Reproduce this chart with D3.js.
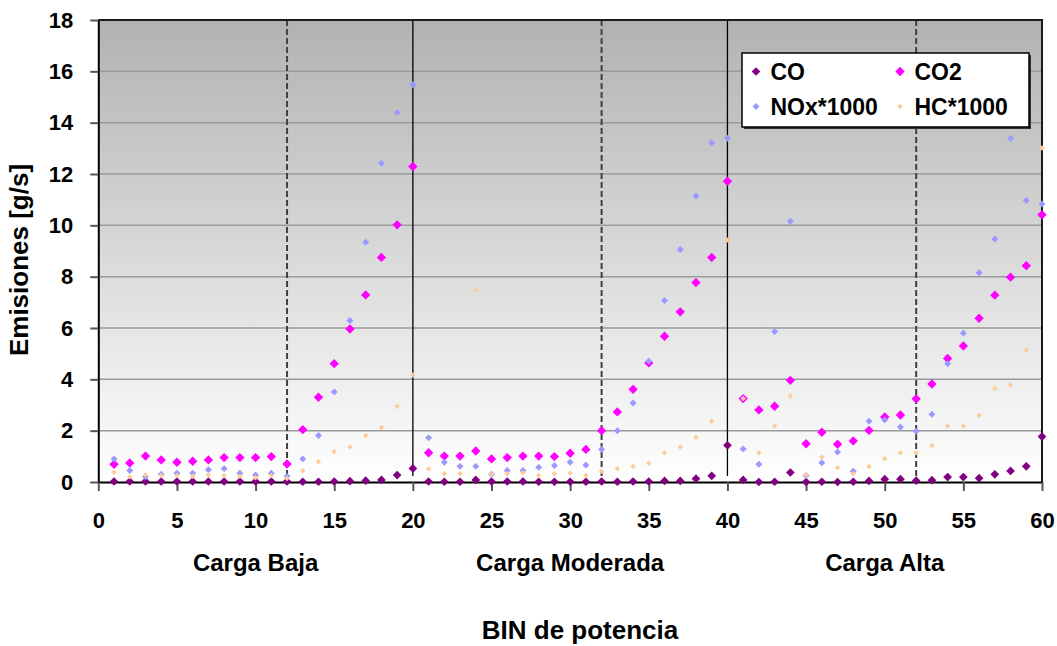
<!DOCTYPE html>
<html>
<head>
<meta charset="utf-8">
<script src="https://cdn.jsdelivr.net/npm/d3@7/dist/d3.min.js"></script>
<style>
  html, body { margin: 0; padding: 0; background: #ffffff; }
  svg { display: block; }
  text { font-family: "Liberation Sans", Arial, sans-serif; font-weight: bold; fill: #000; }
</style>
</head>
<body>
<svg id="chart" width="1057" height="646"></svg>
<script>
// Power bins 1..60
const bins = d3.range(1, 61);

// Emissions per bin [g/s]
const co = [0.02,0.02,0.02,0.02,0.02,0.02,0.02,0.02,0.02,0.02,0.02,0.02,0.01,0.01,0.02,0.03,0.05,0.08,0.27,0.53,
            0.02,0.01,0.01,0.08,0.02,0.02,0.02,0.01,0.01,0.01,0.01,0.02,0.01,0.02,0.02,0.04,0.04,0.13,0.24,1.43,
            0.08,0.00,0.01,0.37,0.00,0.01,0.00,0.01,0.04,0.11,0.11,0.05,0.07,0.19,0.19,0.15,0.30,0.43,0.61,1.77];
const co2 = [0.69,0.74,1.01,0.86,0.77,0.81,0.86,0.95,0.95,0.95,0.99,0.70,2.04,3.30,4.61,5.96,7.29,8.75,10.02,12.29,
             1.14,1.01,1.01,1.21,0.90,0.95,1.01,1.01,0.99,1.12,1.27,2.00,2.73,3.61,4.64,5.68,6.63,7.77,8.75,11.72,
             3.25,2.81,2.95,3.96,1.49,1.94,1.47,1.60,2.01,2.53,2.61,3.24,3.82,4.81,5.30,6.38,7.28,7.98,8.43,10.41];
const nox1000 = [0.90,0.45,0.20,0.30,0.34,0.34,0.48,0.52,0.34,0.27,0.34,0.22,0.90,1.81,3.51,6.29,9.34,12.42,14.40,15.48,
                 1.72,0.77,0.61,0.61,0.30,0.45,0.45,0.57,0.64,0.77,0.66,1.27,2.00,3.08,4.70,7.07,9.06,11.14,13.22,13.39,
                 1.29,0.69,5.86,10.16,0.25,0.75,1.17,0.42,2.37,2.42,2.14,1.98,2.64,4.61,5.80,8.15,9.47,13.39,10.97,10.83];
const hc1000 = [0.38,0.20,0.27,0.25,0.25,0.22,0.27,0.25,0.22,0.17,0.25,0.14,0.44,0.79,1.18,1.36,1.81,2.12,2.95,4.17,
                0.52,0.32,0.32,7.46,0.30,0.32,0.36,0.25,0.32,0.35,0.25,0.42,0.52,0.60,0.73,1.14,1.36,1.74,2.37,9.43,
                3.25,1.14,2.18,3.34,0.27,0.97,0.56,0.32,0.60,0.91,1.14,1.14,1.42,2.18,2.18,2.60,3.64,3.78,5.13,13.01];

const seriesNames = ["CO", "CO2", "NOx*1000", "HC*1000"];
const seriesColors = ["#800080", "#ff00ff", "#9999ff", "#ffcc99"];
const seriesSizes = [38, 44, 24, 15];   // marker areas (px²)

// Load regions and their boundaries
const regionNames = ["Carga Baja", "Carga Moderada", "Carga Alta"];
const regionCenters = [10, 30, 50];
const regionEdges = [20, 40];
const subEdges = [12, 32, 52];

const xTicks = d3.range(0, 61, 5);
const yTicks = d3.range(0, 19, 2);

const svg = d3.select("#chart");
const x = d3.scaleLinear().domain([0, 60]).range([98.3, 1042]);
const y = d3.scaleLinear().domain([0, 18]).range([482, 20]);

// plot background gradient
const defs = svg.append("defs");
const grad = defs.append("linearGradient").attr("id", "bg").attr("x1", 0).attr("y1", 0).attr("x2", 0).attr("y2", 1);
grad.append("stop").attr("offset", "0%").attr("stop-color", "#b2b2b2");
grad.append("stop").attr("offset", "100%").attr("stop-color", "#ffffff");

svg.append("rect")
  .attr("x", x(0)).attr("y", y(18))
  .attr("width", x(60) - x(0)).attr("height", y(0) - y(18))
  .attr("fill", "url(#bg)");

// horizontal gridlines
svg.append("g").selectAll("line").data(yTicks.filter(v => v > 0 && v < 18)).join("line")
  .attr("x1", x(0)).attr("x2", x(60))
  .attr("y1", d => y(d)).attr("y2", d => y(d))
  .attr("stroke", "#9a9a9a").attr("stroke-width", 1.5);

// dashed sub-boundaries
svg.append("g").selectAll("line").data(subEdges).join("line")
  .attr("x1", d => x(d)).attr("x2", d => x(d))
  .attr("y1", y(18)).attr("y2", y(0))
  .attr("stroke", "#404040").attr("stroke-width", 2).attr("stroke-dasharray", "6,3");

// solid region boundaries
svg.append("g").selectAll("line").data(regionEdges).join("line")
  .attr("x1", d => x(d)).attr("x2", d => x(d))
  .attr("y1", y(18)).attr("y2", y(0) - 6)
  .attr("stroke", "#000").attr("stroke-width", 1.3);

// plot frame (top / right)
svg.append("path")
  .attr("d", `M${x(0)},${y(18)}H${x(60)}V${y(0)}`)
  .attr("fill", "none").attr("stroke", "#1a1a1a").attr("stroke-width", 2);

// axes
const xAxis = svg.append("g").attr("transform", `translate(0,${y(0)})`)
  .call(d3.axisBottom(x).tickValues(xTicks).tickSize(9).tickPadding(21).tickSizeOuter(0));
const yAxis = svg.append("g").attr("transform", `translate(${x(0)},0)`)
  .call(d3.axisLeft(y).tickValues(yTicks).tickSize(8).tickPadding(17).tickSizeOuter(0));
[xAxis, yAxis].forEach(a => {
  a.select(".domain").attr("stroke", "#000").attr("stroke-width", 2);
  a.selectAll(".tick line").attr("stroke", "#555").attr("stroke-width", 2);
  a.selectAll(".tick text").attr("font-size", 22).attr("font-family", "Liberation Sans, Arial, sans-serif").attr("font-weight", "bold").attr("fill", "#000");
});

// markers
const seriesData = [co, co2, nox1000, hc1000];
seriesData.forEach((vals, i) => {
  const sym = d3.symbol(d3.symbolSquare, seriesSizes[i]);
  svg.append("g").selectAll("path").data(bins).join("path")
    .attr("d", sym)
    .attr("transform", (b, j) => `translate(${x(b)},${y(vals[j])}) rotate(45)`)
    .attr("fill", seriesColors[i]);
});

// region labels
svg.append("g").selectAll("text").data(regionNames).join("text")
  .attr("x", (d, i) => x(regionCenters[i]))
  .attr("y", 571)
  .attr("text-anchor", "middle")
  .attr("font-size", 24)
  .text(d => d);

// axis titles
svg.append("text")
  .attr("x", 580).attr("y", 639)
  .attr("text-anchor", "middle").attr("font-size", 26)
  .text("BIN de potencia");
svg.append("text")
  .attr("transform", "translate(28,260) rotate(-90)")
  .attr("text-anchor", "middle").attr("font-size", 26)
  .text("Emisiones [g/s]");

// legend
const lg = svg.append("g");
lg.append("rect").attr("x", 744).attr("y", 55).attr("width", 287).attr("height", 74).attr("fill", "#333");
lg.append("rect").attr("x", 742).attr("y", 53).attr("width", 287).attr("height", 74)
  .attr("fill", "#fff").attr("stroke", "#000").attr("stroke-width", 1.5);
const legendPos = [[756, 71.5], [900, 71.5], [756, 106.5], [900, 106.5]];
seriesNames.forEach((name, i) => {
  const [lx, ly] = legendPos[i];
  lg.append("path")
    .attr("d", d3.symbol(d3.symbolSquare, seriesSizes[i])())
    .attr("transform", `translate(${lx},${ly}) rotate(45)`)
    .attr("fill", seriesColors[i]);
  lg.append("text")
    .attr("x", lx + 14.5).attr("y", ly + 8.3)
    .attr("font-size", 23)
    .text(name);
});
</script>
</body>
</html>
